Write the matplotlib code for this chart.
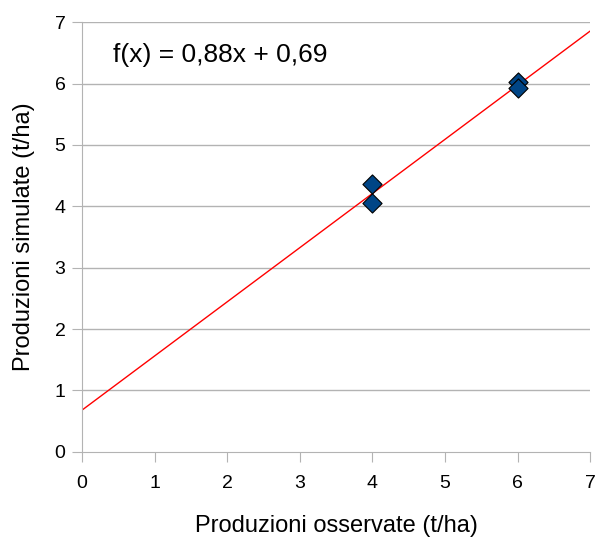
import numpy as np
import matplotlib.pyplot as plt

plt.rcParams['font.family'] = ['Liberation Sans', 'DejaVu Sans']

observed = [4, 4, 6, 6]
simulated = [4.37, 4.05, 6.02, 5.93]
x_ticks = [0, 1, 2, 3, 4, 5, 6, 7]
y_ticks = [0, 1, 2, 3, 4, 5, 6, 7]

slope, intercept = np.polyfit(observed, simulated, 1)

fig = plt.figure(figsize=(5.95, 5.43), dpi=100)
ax = fig.add_axes([0.138, 0.168, 0.854, 0.791])

for y in y_ticks[1:]:
    ax.axhline(y, color='#b3b3b3', linewidth=1, zorder=0)

xs = np.array([0, 7])
ax.plot(xs, slope * xs + intercept, color='#ff0000', linewidth=1, zorder=2)
ax.scatter(observed, simulated, marker='D', s=95, c='#004586',
           edgecolors='black', linewidths=0.8, zorder=3)

ax.text(0.43, 6.47, 'f(x) = 0,88x + 0,69', fontsize=19, va='center')

ax.set_xlim(0, 7)
ax.set_ylim(0, 7)
ax.set_xticks(x_ticks)
ax.set_yticks(y_ticks)
ax.tick_params(direction='out', length=7, color='#b3b3b3', labelsize=14)
ax.tick_params(axis='x', pad=10)
ax.tick_params(axis='y', pad=5)
for side in ['top', 'right']:
    ax.spines[side].set_visible(False)
for side in ['left', 'bottom']:
    ax.spines[side].set_color('#b3b3b3')

ax.set_xlabel('Produzioni osservate (t/ha)', fontsize=17, labelpad=16)
ax.set_ylabel('Produzioni simulate (t/ha)', fontsize=17, labelpad=14)

fig.savefig('out.png', dpi=100)
